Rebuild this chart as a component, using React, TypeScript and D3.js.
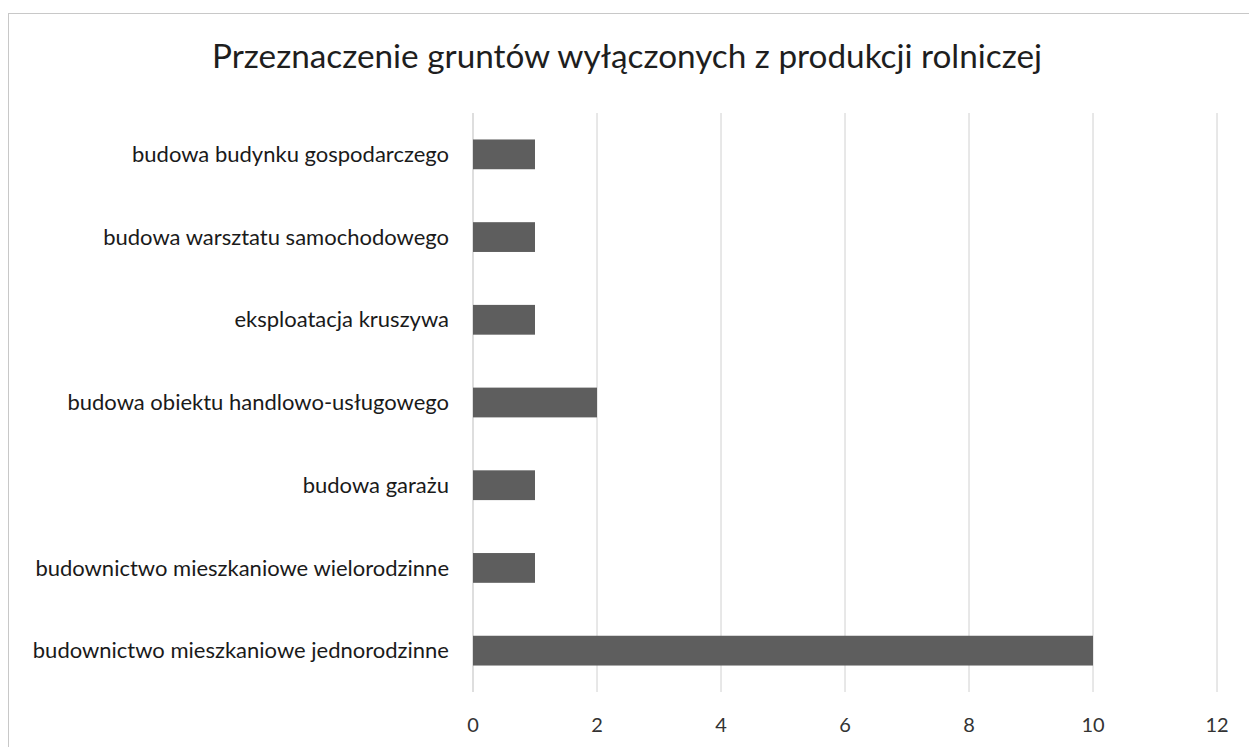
import React from "react";
import * as d3 from "d3";

const categories = [
  "budowa budynku gospodarczego",
  "budowa warsztatu samochodowego",
  "eksploatacja kruszywa",
  "budowa obiektu handlowo-usługowego",
  "budowa garażu",
  "budownictwo mieszkaniowe wielorodzinne",
  "budownictwo mieszkaniowe jednorodzinne",
];
const values = [1, 1, 1, 2, 1, 1, 10];
const ticks = [0, 2, 4, 6, 8, 10, 12];
const title = "Przeznaczenie gruntów wyłączonych z produkcji rolniczej";

const App = () => {
  const width = 1249,
    height = 747;
  const left = 473,
    right = 1217,
    top = 113,
    bottom = 692;

  const x = d3.scaleLinear().domain([0, 12]).range([left, right]);
  const y = d3
    .scaleBand()
    .domain(categories)
    .range([top, bottom])
    .paddingInner(0.64)
    .paddingOuter(0.32);

  const font = "Lato, 'Open Sans', sans-serif";

  return (
    <svg
      width={width}
      height={height}
      style={{ position: "absolute", left: 0, top: 0, background: "#fff" }}
    >
      <rect x={8.5} y={13.5} width={1260} height={760} fill="none" stroke="#c8c8c8" />
      <text
        x={627}
        y={68}
        textAnchor="middle"
        fontFamily={font}
        fontSize={33.3}
        fill="#1e1e1e"
      >
        {title}
      </text>
      {ticks.map((t) => (
        <g key={t}>
          <line
            x1={x(t)}
            x2={x(t)}
            y1={top}
            y2={bottom}
            stroke={t === 0 ? "#bdbdbd" : "#d0d0d0"}
            strokeWidth={1}
          />
          <text
            x={x(t)}
            y={732}
            textAnchor="middle"
            fontFamily={font}
            fontSize={20}
            fill="#333"
          >
            {t}
          </text>
        </g>
      ))}
      {categories.map((c, i) => (
        <g key={c}>
          <rect
            x={x(0)}
            y={y(c)}
            width={x(values[i]) - x(0)}
            height={y.bandwidth()}
            fill="#5e5e5e"
          />
          <text
            x={449}
            y={(y(c) as number) + y.bandwidth() / 2}
            dy="0.35em"
            textAnchor="end"
            fontFamily={font}
            fontSize={22}
            fill="#1a1a1a"
          >
            {c}
          </text>
        </g>
      ))}
    </svg>
  );
};

export default App;
